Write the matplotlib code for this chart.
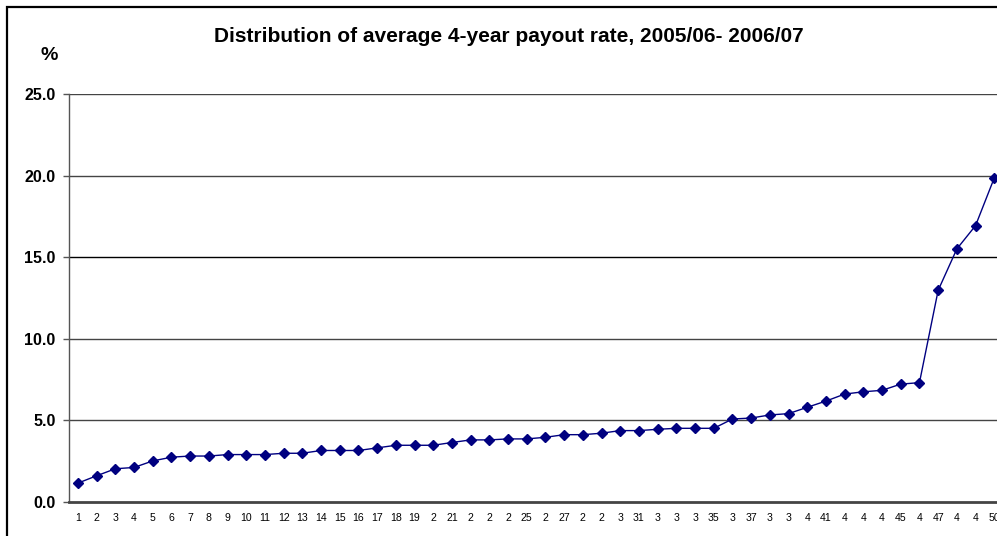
import matplotlib.pyplot as plt
from matplotlib.patches import Rectangle

plt.rcParams['font.family'] = ['Liberation Sans', 'DejaVu Sans']

# average 4-year payout rate per institution, sorted ascending (%)
positions = list(range(1, 51))
payout_rate = [1.14, 1.59, 2.02, 2.10, 2.50, 2.73, 2.80, 2.80, 2.89, 2.89,
               2.89, 2.97, 2.97, 3.14, 3.14, 3.14, 3.30, 3.46, 3.46, 3.46,
               3.63, 3.79, 3.79, 3.85, 3.85, 3.95, 4.11, 4.11, 4.20, 4.36,
               4.36, 4.44, 4.50, 4.50, 4.50, 5.07, 5.13, 5.32, 5.40, 5.79,
               6.17, 6.60, 6.74, 6.83, 7.21, 7.30, 12.96, 15.50, 16.93, 19.85]
# category labels as they show up on the axis (overlapping digits dropped)
tick_labels = ['1', '2', '3', '4', '5', '6', '7', '8', '9', '10',
               '11', '12', '13', '14', '15', '16', '17', '18', '19', '2',
               '21', '2', '2', '2', '25', '2', '27', '2', '2', '3',
               '31', '3', '3', '3', '35', '3', '37', '3', '3', '4',
               '41', '4', '4', '4', '45', '4', '47', '4', '4', '50']
y_ticks = [0, 5, 10, 15, 20, 25]

fig = plt.figure(figsize=(9.97, 5.36), dpi=100)

# chart frame, runs off the right and bottom edges
fig.patches.append(Rectangle((7 / 997, -0.05), 1.2, 1 - 7 / 536 + 0.05,
                             transform=fig.transFigure, fill=False,
                             edgecolor='black', linewidth=1.6))

ax = fig.add_axes([68.6 / 997, 1 - 501.7 / 536, 935 / 997, 407.7 / 536])
ax.plot(positions, payout_rate, color='#000080', linewidth=1.0,
        marker='D', markersize=4.6, markerfacecolor='#000080',
        markeredgecolor='#000080', clip_on=False, zorder=3)

ax.set_xlim(0.5, 50.5)
ax.set_ylim(0, 25)
ax.set_yticks(y_ticks)
ax.set_yticklabels([f'{v:.1f}' for v in y_ticks], fontsize=11.5, fontweight='bold')
ax.set_xticks(positions)
ax.set_xticklabels(tick_labels, fontsize=7.6)
ax.tick_params(axis='x', length=0, pad=8)
ax.tick_params(axis='y', length=4, width=1, color='#555555', pad=5.5)

for v in y_ticks[1:]:
    ax.axhline(v, color='#444444' if v != 15 else 'black', linewidth=1.0, zorder=1)

for side in ['top', 'right']:
    ax.spines[side].set_visible(False)
ax.spines['left'].set_color('#555555')
ax.spines['left'].set_linewidth(1.0)
ax.spines['bottom'].set_color('#444444')
ax.spines['bottom'].set_linewidth(2.0)

fig.text(509 / 997, 1 - 37 / 536, 'Distribution of average 4-year payout rate, 2005/06- 2006/07',
         ha='center', va='center', fontsize=15, fontweight='bold')
fig.text(49 / 997, 1 - 55 / 536, '%', ha='center', va='center',
         fontsize=14, fontweight='bold')

fig.savefig('out.png', dpi=100)
